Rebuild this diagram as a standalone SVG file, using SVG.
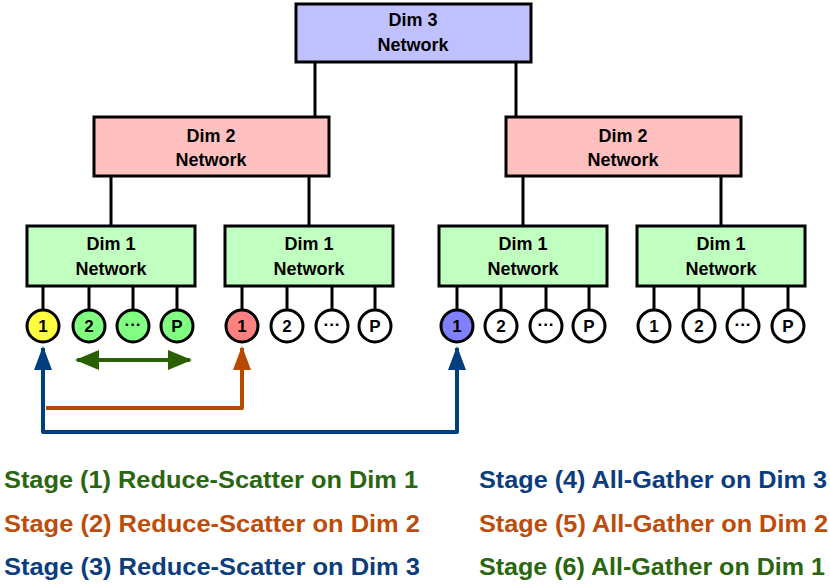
<svg xmlns="http://www.w3.org/2000/svg" width="830" height="587" viewBox="0 0 830 587">
<style>
.box{stroke:#000;stroke-width:3}
.d3{fill:#c0c0ff}.d2{fill:#ffc0c0}.d1{fill:#c0ffc0}
.bt{font-family:"Liberation Sans",Arial,sans-serif;font-weight:bold;font-size:18px;text-anchor:middle;fill:#000}
.ln{stroke:#000;stroke-width:3;fill:none}
.nd{stroke:#000;stroke-width:3}
.nt{font-family:"Liberation Sans",Arial,sans-serif;font-weight:bold;font-size:17px;text-anchor:middle;fill:#000}
.lg{font-family:"Liberation Sans",Arial,sans-serif;font-weight:bold;font-size:23.5px}
.g{fill:#2a6510}.o{fill:#bd4b0a}.b{fill:#0b3d7d}
</style>
<defs>
<marker id="ag" markerWidth="6" markerHeight="5" refX="5.5" refY="2.5" orient="auto-start-reverse" markerUnits="strokeWidth"><path d="M0,0 L6,2.5 L0,5 z" fill="#2a6000"/></marker>
<marker id="ao" markerWidth="6" markerHeight="4.5" refX="5.5" refY="2.25" orient="auto-start-reverse" markerUnits="strokeWidth"><path d="M0,0 L6,2.25 L0,4.5 z" fill="#b84a00"/></marker>
<marker id="ab" markerWidth="6" markerHeight="4.5" refX="5.5" refY="2.25" orient="auto-start-reverse" markerUnits="strokeWidth"><path d="M0,0 L6,2.25 L0,4.5 z" fill="#003f7f"/></marker>
</defs>
<g id="connectors">
<path class="ln" d="M315,62 V117 M516,62 V117"/>
<path class="ln" d="M111,176 V226 M309,176 V226 M523,176 V226 M721,176 V226"/>
<path class="ln" d="M43,286 V310 M89,286 V310 M133,286 V310 M177,286 V310"/>
<path class="ln" d="M242,286 V310 M287,286 V310 M332,286 V310 M375,286 V310"/>
<path class="ln" d="M457,286 V310 M501,286 V310 M546,286 V310 M589,286 V310"/>
<path class="ln" d="M654,286 V310 M699,286 V310 M743,286 V310 M788,286 V310"/>
<path d="M77,360 H190" stroke="#2a6000" stroke-width="4" fill="none" marker-start="url(#ag)" marker-end="url(#ag)"/>
<path d="M46,408 H242 V348" stroke="#b84a00" stroke-width="4" fill="none" stroke-linejoin="round" marker-end="url(#ao)"/>
<path d="M457,348 V432 H43 V348" stroke="#003f7f" stroke-width="4" fill="none" stroke-linejoin="round" marker-start="url(#ab)" marker-end="url(#ab)"/>
</g>
<g id="dim3"><rect class="box d3" x="296" y="4" width="235" height="58"/><text class="bt" x="413" y="26">Dim 3</text><text class="bt" x="413" y="51">Network</text></g>
<g id="dim2a"><rect class="box d2" x="94" y="117" width="235" height="59"/><text class="bt" x="211" y="142">Dim 2</text><text class="bt" x="211" y="166">Network</text></g>
<g id="dim2b"><rect class="box d2" x="506" y="117" width="235" height="59"/><text class="bt" x="623" y="142">Dim 2</text><text class="bt" x="623" y="166">Network</text></g>
<g id="dim1a"><rect class="box d1" x="27" y="226" width="168" height="60"/><text class="bt" x="111" y="250">Dim 1</text><text class="bt" x="111" y="275">Network</text></g>
<g id="dim1b"><rect class="box d1" x="225" y="226" width="168" height="60"/><text class="bt" x="309" y="250">Dim 1</text><text class="bt" x="309" y="275">Network</text></g>
<g id="dim1c"><rect class="box d1" x="439" y="226" width="168" height="60"/><text class="bt" x="523" y="250">Dim 1</text><text class="bt" x="523" y="275">Network</text></g>
<g id="dim1d"><rect class="box d1" x="637" y="226" width="168" height="60"/><text class="bt" x="721" y="250">Dim 1</text><text class="bt" x="721" y="275">Network</text></g>
<g id="n-a1"><circle class="nd" cx="43" cy="326" r="16" fill="#ffff40"/><text class="nt" x="43" y="332">1</text></g>
<g id="n-a2"><circle class="nd" cx="89" cy="326" r="16" fill="#80ff80"/><text class="nt" x="89" y="332">2</text></g>
<g id="n-a3"><circle class="nd" cx="133" cy="326" r="16" fill="#80ff80"/><text class="nt" x="133" y="330">···</text></g>
<g id="n-a4"><circle class="nd" cx="177" cy="326" r="16" fill="#80ff80"/><text class="nt" x="177" y="332">P</text></g>
<g id="n-b1"><circle class="nd" cx="242" cy="326" r="16" fill="#ff8080"/><text class="nt" x="242" y="332">1</text></g>
<g id="n-b2"><circle class="nd" cx="287" cy="326" r="16" fill="#fff"/><text class="nt" x="287" y="332">2</text></g>
<g id="n-b3"><circle class="nd" cx="332" cy="326" r="16" fill="#fff"/><text class="nt" x="332" y="330">···</text></g>
<g id="n-b4"><circle class="nd" cx="375" cy="326" r="16" fill="#fff"/><text class="nt" x="375" y="332">P</text></g>
<g id="n-c1"><circle class="nd" cx="457" cy="326" r="16" fill="#8080ff"/><text class="nt" x="457" y="332">1</text></g>
<g id="n-c2"><circle class="nd" cx="501" cy="326" r="16" fill="#fff"/><text class="nt" x="501" y="332">2</text></g>
<g id="n-c3"><circle class="nd" cx="546" cy="326" r="16" fill="#fff"/><text class="nt" x="546" y="330">···</text></g>
<g id="n-c4"><circle class="nd" cx="589" cy="326" r="16" fill="#fff"/><text class="nt" x="589" y="332">P</text></g>
<g id="n-d1"><circle class="nd" cx="654" cy="326" r="16" fill="#fff"/><text class="nt" x="654" y="332">1</text></g>
<g id="n-d2"><circle class="nd" cx="699" cy="326" r="16" fill="#fff"/><text class="nt" x="699" y="332">2</text></g>
<g id="n-d3"><circle class="nd" cx="743" cy="326" r="16" fill="#fff"/><text class="nt" x="743" y="330">···</text></g>
<g id="n-d4"><circle class="nd" cx="788" cy="326" r="16" fill="#fff"/><text class="nt" x="788" y="332">P</text></g>
<g id="legend">
<text class="lg g" x="4" y="488" textLength="414" lengthAdjust="spacingAndGlyphs">Stage (1) Reduce-Scatter on Dim 1</text>
<text class="lg o" x="4" y="532" textLength="416" lengthAdjust="spacingAndGlyphs">Stage (2) Reduce-Scatter on Dim 2</text>
<text class="lg b" x="4" y="575" textLength="416" lengthAdjust="spacingAndGlyphs">Stage (3) Reduce-Scatter on Dim 3</text>
<text class="lg b" x="479" y="488" textLength="348" lengthAdjust="spacingAndGlyphs">Stage (4) All-Gather on Dim 3</text>
<text class="lg o" x="479" y="532" textLength="349" lengthAdjust="spacingAndGlyphs">Stage (5) All-Gather on Dim 2</text>
<text class="lg g" x="479" y="575" textLength="346" lengthAdjust="spacingAndGlyphs">Stage (6) All-Gather on Dim 1</text>
</g>
</svg>
